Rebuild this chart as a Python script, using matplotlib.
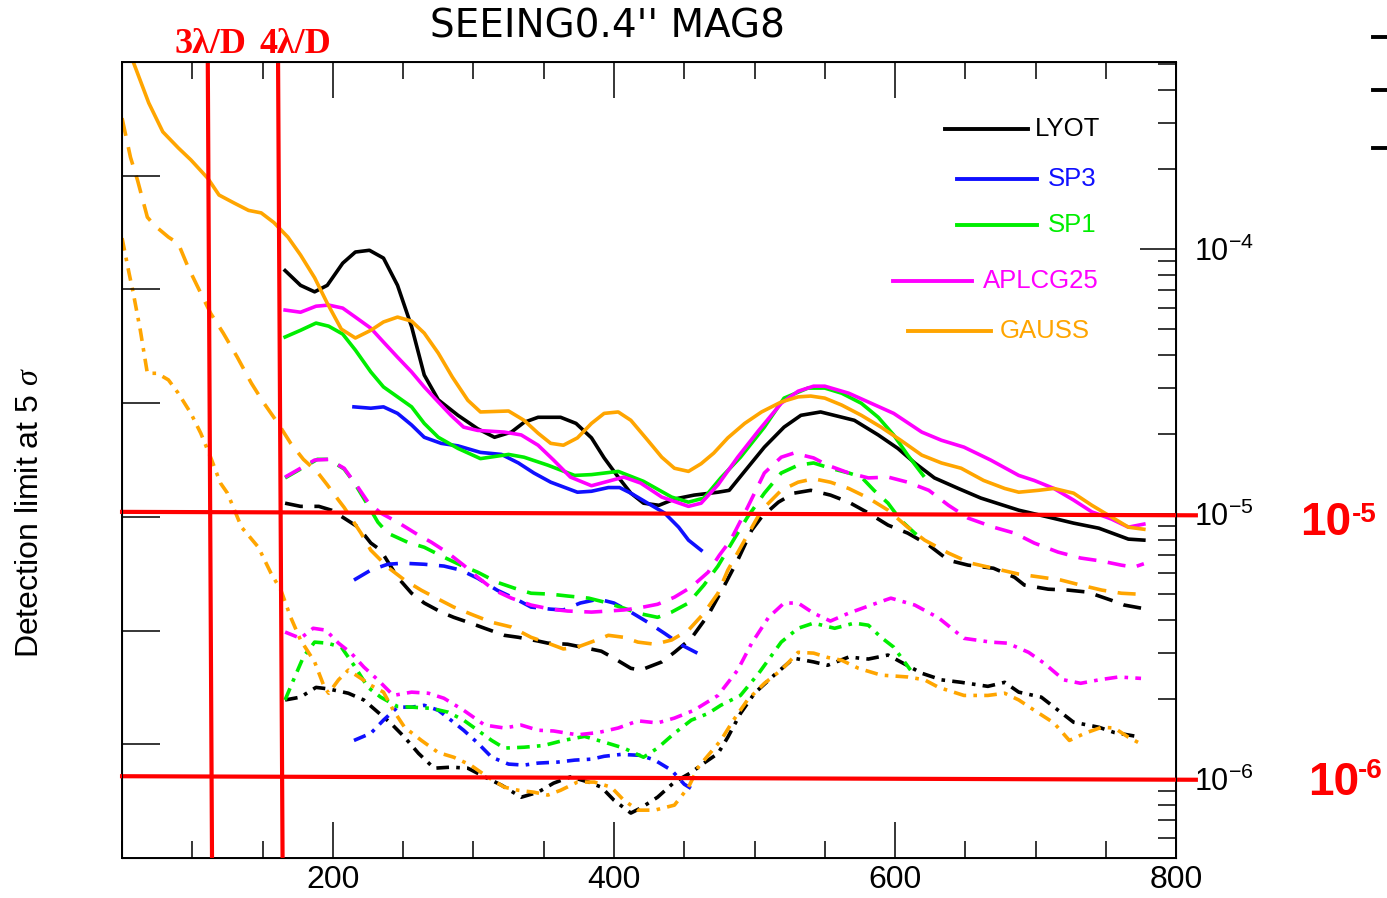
import numpy as np
import matplotlib.pyplot as plt
from matplotlib.lines import Line2D
from matplotlib.ticker import MultipleLocator, LogLocator, NullFormatter, LogFormatterSciNotation

plt.rcParams['font.family'] = ['Liberation Sans', 'DejaVu Sans']
plt.rcParams['mathtext.fontset'] = 'custom'
plt.rcParams['mathtext.rm'] = 'Liberation Sans'
plt.rcParams['mathtext.it'] = 'Liberation Serif:italic'
plt.rcParams['mathtext.bf'] = 'Liberation Sans:bold'

# --- LYOT ---
lyot_solid_x = [166, 177, 187, 196, 207, 216, 226, 236, 246, 256, 265, 275, 289, 303, 315, 327, 336, 346, 362, 373,
                384, 393, 403, 412, 421, 432, 443, 457, 474, 482, 492, 507, 521, 533, 547, 571, 588, 602, 614, 628,
                645, 661, 688, 709, 727, 745, 766, 777]
lyot_solid_y = [8.3e-5, 7.3e-5, 6.9e-5, 7.3e-5, 8.85e-5, 9.75e-5, 9.9e-5, 9.25e-5, 7.3e-5, 5.1e-5,
                3.35e-5, 2.7e-5, 2.36e-5, 2.1e-5, 1.95e-5, 2.04e-5, 2.22e-5, 2.32e-5, 2.32e-5, 2.2e-5,
                1.94e-5, 1.63e-5, 1.38e-5, 1.2e-5, 1.1e-5, 1.08e-5, 1.14e-5, 1.18e-5, 1.21e-5, 1.23e-5,
                1.43e-5, 1.79e-5, 2.13e-5, 2.36e-5, 2.43e-5, 2.26e-5, 1.99e-5, 1.77e-5, 1.56e-5, 1.37e-5,
                1.25e-5, 1.15e-5, 1.035e-5, 9.75e-6, 9.25e-6, 8.85e-6, 8.05e-6, 7.98e-6]
lyot_dash_x = [166, 177, 190, 199, 208, 218, 227, 234, 246, 256, 265, 277, 286, 298, 308, 322, 332, 346, 353, 367,
               377, 391, 400, 412, 419, 434, 443, 455, 467, 478, 488, 498, 505, 517, 528, 540, 554, 567, 581, 595,
               609, 624, 638, 652, 670, 685, 692, 709, 723, 737, 754, 763, 775]
lyot_dash_y = [1.1e-5, 1.07e-5, 1.07e-5, 1.035e-5, 9.66e-6, 8.93e-6, 7.78e-6, 7.31e-6, 5.78e-6, 5.03e-6,
               4.62e-6, 4.27e-6, 4.08e-6, 3.88e-6, 3.71e-6, 3.49e-6, 3.43e-6, 3.32e-6, 3.26e-6, 3.23e-6,
               3.15e-6, 3.04e-6, 2.86e-6, 2.62e-6, 2.58e-6, 2.77e-6, 3.01e-6, 3.4e-6, 4.16e-6, 5.31e-6,
               6.7e-6, 8.7e-6, 9.75e-6, 1.11e-5, 1.2e-5, 1.23e-5, 1.18e-5, 1.11e-5, 1.01e-5, 9.09e-6,
               8.48e-6, 7.64e-6, 6.7e-6, 6.42e-6, 6.25e-6, 5.78e-6, 5.4e-6, 5.21e-6, 5.17e-6, 5.08e-6,
               4.73e-6, 4.54e-6, 4.42e-6]
lyot_dd_x = [166, 177, 188, 197, 211, 222, 232, 241, 251, 261, 272, 284, 296, 308, 320, 334, 346, 357, 369, 382,
             391, 400, 412, 419, 431, 443, 455, 464, 474, 481, 490, 500, 514, 528, 542, 552, 567, 581, 595, 604,
             619, 633, 647, 666, 678, 688, 704, 716, 727, 745, 756, 775]
lyot_dd_y = [1.99e-6, 2.04e-6, 2.22e-6, 2.19e-6, 2.11e-6, 1.99e-6, 1.79e-6, 1.63e-6, 1.44e-6, 1.25e-6,
             1.1e-6, 1.11e-6, 1.1e-6, 1.02e-6, 9.49e-7, 8.55e-7, 8.93e-7, 9.66e-7, 1.02e-6, 9.75e-7,
             9.33e-7, 8.33e-7, 7.45e-7, 7.78e-7, 8.55e-7, 9.75e-7, 1.06e-6, 1.15e-6, 1.25e-6, 1.44e-6,
             1.77e-6, 2.11e-6, 2.47e-6, 2.86e-6, 2.77e-6, 2.69e-6, 2.89e-6, 2.84e-6, 2.94e-6, 2.77e-6,
             2.51e-6, 2.37e-6, 2.32e-6, 2.24e-6, 2.32e-6, 2.13e-6, 2.04e-6, 1.82e-6, 1.64e-6, 1.57e-6,
             1.5e-6, 1.44e-6]

# --- SP3 ---
sp3_solid_x = [215, 227, 236, 246, 256, 265, 277, 289, 305, 320, 332, 343, 355, 374, 384, 396, 404, 412, 424, 436,
               446, 453, 462]
sp3_solid_y = [2.54e-5, 2.51e-5, 2.54e-5, 2.4e-5, 2.17e-5, 1.95e-5, 1.85e-5, 1.81e-5, 1.71e-5, 1.68e-5,
               1.56e-5, 1.43e-5, 1.32e-5, 1.21e-5, 1.22e-5, 1.26e-5, 1.26e-5, 1.2e-5, 1.1e-5, 1.01e-5,
               8.93e-6, 7.98e-6, 7.31e-6]
sp3_dash_x = [215, 227, 239, 250, 265, 279, 291, 303, 317, 329, 341, 355, 364, 376, 389, 400, 412, 424, 436, 448, 462]
sp3_dash_y = [5.64e-6, 6.15e-6, 6.47e-6, 6.53e-6, 6.47e-6, 6.37e-6, 6.15e-6, 5.73e-6, 5.16e-6, 4.82e-6,
              4.46e-6, 4.38e-6, 4.35e-6, 4.62e-6, 4.78e-6, 4.62e-6, 4.27e-6, 3.91e-6, 3.55e-6, 3.21e-6, 2.94e-6]
sp3_dd_x = [215, 227, 236, 246, 256, 265, 275, 284, 293, 303, 313, 325, 336, 346, 360, 372, 384, 393, 405, 419,
            429, 441, 450, 457]
sp3_dd_y = [1.4e-6, 1.49e-6, 1.67e-6, 1.87e-6, 1.87e-6, 1.9e-6, 1.82e-6, 1.67e-6, 1.53e-6, 1.37e-6,
            1.21e-6, 1.14e-6, 1.13e-6, 1.15e-6, 1.16e-6, 1.18e-6, 1.19e-6, 1.22e-6, 1.24e-6, 1.23e-6,
            1.18e-6, 1.08e-6, 9.57e-7, 9.08e-7]

# --- SP1 ---
sp1_solid_x = [166, 177, 188, 197, 207, 216, 227, 236, 246, 256, 265, 275, 289, 305, 325, 336, 353, 372, 384, 403,
               421, 441, 453, 464, 476, 490, 507, 521, 538, 550, 562, 576, 588, 599, 609, 620]
sp1_solid_y = [4.66e-5, 4.94e-5, 5.26e-5, 5.12e-5, 4.78e-5, 4.16e-5, 3.44e-5, 3.02e-5, 2.77e-5, 2.54e-5,
               2.2e-5, 1.95e-5, 1.77e-5, 1.62e-5, 1.68e-5, 1.64e-5, 1.53e-5, 1.4e-5, 1.41e-5, 1.45e-5,
               1.33e-5, 1.16e-5, 1.11e-5, 1.15e-5, 1.37e-5, 1.64e-5, 2.13e-5, 2.74e-5, 2.99e-5, 2.99e-5,
               2.86e-5, 2.62e-5, 2.32e-5, 1.99e-5, 1.67e-5, 1.4e-5]
sp1_dash_x = [166, 177, 189, 197, 208, 215, 225, 232, 239, 253, 265, 279, 291, 303, 317, 329, 341, 355, 367, 382,
              393, 407, 417, 431, 441, 453, 464, 474, 485, 495, 507, 519, 531, 542, 554, 567, 576, 585, 595, 604,
              614, 620]
sp1_dash_y = [1.37e-5, 1.48e-5, 1.61e-5, 1.61e-5, 1.48e-5, 1.32e-5, 1.08e-5, 9.33e-6, 8.48e-6, 7.84e-6,
              7.5e-6, 6.88e-6, 6.42e-6, 6.04e-6, 5.53e-6, 5.26e-6, 5.03e-6, 4.99e-6, 4.91e-6, 4.82e-6,
              4.66e-6, 4.42e-6, 4.23e-6, 4.08e-6, 4.27e-6, 4.62e-6, 5.4e-6, 6.37e-6, 7.98e-6, 9.75e-6,
              1.2e-5, 1.43e-5, 1.53e-5, 1.56e-5, 1.49e-5, 1.43e-5, 1.38e-5, 1.23e-5, 1.1e-5, 9.49e-6,
              8.48e-6, 7.98e-6]
sp1_dd_x = [166, 172, 179, 187, 196, 206, 215, 225, 234, 246, 256, 270, 282, 293, 303, 313, 322, 336, 350, 364,
            379, 393, 407, 421, 431, 443, 455, 467, 476, 490, 503, 519, 531, 542, 557, 571, 581, 590, 599, 611]
sp1_dd_y = [1.99e-6, 2.37e-6, 2.89e-6, 3.29e-6, 3.26e-6, 3.15e-6, 2.69e-6, 2.22e-6, 2.04e-6, 1.88e-6,
            1.87e-6, 1.85e-6, 1.79e-6, 1.67e-6, 1.53e-6, 1.4e-6, 1.31e-6, 1.32e-6, 1.34e-6, 1.4e-6,
            1.45e-6, 1.38e-6, 1.31e-6, 1.21e-6, 1.31e-6, 1.49e-6, 1.67e-6, 1.77e-6, 1.9e-6, 2.07e-6,
            2.51e-6, 3.29e-6, 3.71e-6, 3.88e-6, 3.71e-6, 3.88e-6, 3.81e-6, 3.43e-6, 3.15e-6, 2.58e-6]

# --- APLCG25 ---
aplc_solid_x = [166, 177, 188, 197, 207, 216, 227, 236, 246, 256, 265, 275, 284, 293, 303, 322, 334, 346, 357, 369,
                384, 398, 407, 419, 434, 453, 462, 474, 488, 503, 519, 531, 542, 550, 567, 583, 599, 619, 633, 649,
                668, 688, 699, 713, 727, 740, 754, 766, 777]
aplc_solid_y = [5.89e-5, 5.78e-5, 6.09e-5, 6.15e-5, 5.99e-5, 5.54e-5, 5.03e-5, 4.46e-5, 3.91e-5, 3.44e-5,
                3.02e-5, 2.65e-5, 2.36e-5, 2.13e-5, 2.07e-5, 2.04e-5, 1.99e-5, 1.82e-5, 1.6e-5, 1.38e-5,
                1.28e-5, 1.34e-5, 1.38e-5, 1.31e-5, 1.16e-5, 1.07e-5, 1.1e-5, 1.29e-5, 1.64e-5, 2.07e-5,
                2.62e-5, 2.91e-5, 3.04e-5, 3.04e-5, 2.86e-5, 2.62e-5, 2.4e-5, 2.04e-5, 1.9e-5, 1.79e-5,
                1.6e-5, 1.4e-5, 1.34e-5, 1.25e-5, 1.13e-5, 1.02e-5, 9.58e-6, 8.93e-6, 9.17e-6]
aplc_dash_x = [166, 177, 187, 197, 208, 218, 225, 234, 246, 261, 270, 282, 293, 303, 315, 327, 341, 355, 367, 384,
               396, 407, 417, 431, 443, 455, 467, 475, 483, 495, 507, 519, 528, 542, 552, 567, 581, 595, 609, 624,
               638, 652, 670, 685, 699, 716, 732, 747, 761, 770, 777]
aplc_dash_y = [1.38e-5, 1.49e-5, 1.6e-5, 1.61e-5, 1.49e-5, 1.26e-5, 1.11e-5, 1.01e-5, 9.33e-6, 8.33e-6,
               7.84e-6, 7.13e-6, 6.42e-6, 5.78e-6, 5.16e-6, 4.82e-6, 4.54e-6, 4.38e-6, 4.31e-6, 4.27e-6,
               4.31e-6, 4.35e-6, 4.42e-6, 4.57e-6, 4.86e-6, 5.31e-6, 6.04e-6, 7.0e-6, 7.98e-6, 1.06e-5,
               1.43e-5, 1.64e-5, 1.7e-5, 1.63e-5, 1.53e-5, 1.43e-5, 1.37e-5, 1.38e-5, 1.32e-5, 1.23e-5,
               1.08e-5, 9.66e-6, 8.93e-6, 8.48e-6, 7.78e-6, 7.19e-6, 6.83e-6, 6.65e-6, 6.42e-6, 6.31e-6, 6.5e-6]
aplc_dd_x = [166, 177, 186, 195, 204, 213, 222, 232, 243, 256, 268, 279, 293, 308, 322, 334, 346, 357, 374, 389,
             403, 417, 431, 443, 457, 474, 488, 498, 510, 521, 531, 542, 554, 567, 583, 597, 614, 631, 649, 668,
             680, 695, 706, 720, 732, 745, 759, 775]
aplc_dd_y = [3.59e-6, 3.4e-6, 3.71e-6, 3.65e-6, 3.26e-6, 2.99e-6, 2.65e-6, 2.37e-6, 2.07e-6, 2.13e-6,
             2.11e-6, 2.02e-6, 1.82e-6, 1.6e-6, 1.56e-6, 1.6e-6, 1.53e-6, 1.52e-6, 1.47e-6, 1.5e-6,
             1.56e-6, 1.66e-6, 1.63e-6, 1.7e-6, 1.82e-6, 2.07e-6, 2.58e-6, 3.26e-6, 4.08e-6, 4.62e-6,
             4.62e-6, 4.23e-6, 3.95e-6, 4.23e-6, 4.54e-6, 4.82e-6, 4.54e-6, 4.06e-6, 3.4e-6, 3.29e-6,
             3.26e-6, 3.01e-6, 2.74e-6, 2.37e-6, 2.3e-6, 2.37e-6, 2.43e-6, 2.4e-6]

# --- GAUSS ---
gauss_solid_x = [50, 58, 69, 79, 90, 99, 111, 119, 130, 140, 149, 158, 168, 177, 187, 196, 206, 216, 227, 236,
                 246, 256, 265, 275, 285, 296, 305, 325, 336, 346, 355, 364, 374, 384, 393, 403, 412, 424, 434, 443,
                 453, 462, 471, 481, 493, 505, 519, 531, 540, 550, 562, 576, 590, 604, 619, 633, 647, 663, 678, 688,
                 702, 713, 727, 740, 754, 766, 777]
gauss_solid_y = [6.6e-4, 5.08e-4, 3.56e-4, 2.77e-4, 2.41e-4, 2.17e-4, 1.85e-4, 1.6e-4, 1.49e-4, 1.4e-4,
                 1.37e-4, 1.26e-4, 1.11e-4, 9.5e-5, 7.8e-5, 6.25e-5, 4.99e-5, 4.62e-5, 4.94e-5, 5.31e-5,
                 5.54e-5, 5.35e-5, 4.82e-5, 4.05e-5, 3.29e-5, 2.69e-5, 2.43e-5, 2.45e-5, 2.26e-5, 2.02e-5,
                 1.85e-5, 1.82e-5, 1.94e-5, 2.2e-5, 2.4e-5, 2.43e-5, 2.26e-5, 1.9e-5, 1.64e-5, 1.49e-5,
                 1.45e-5, 1.55e-5, 1.7e-5, 1.94e-5, 2.2e-5, 2.43e-5, 2.65e-5, 2.77e-5, 2.79e-5, 2.74e-5,
                 2.58e-5, 2.36e-5, 2.13e-5, 1.9e-5, 1.67e-5, 1.56e-5, 1.49e-5, 1.34e-5, 1.25e-5, 1.21e-5,
                 1.23e-5, 1.25e-5, 1.2e-5, 1.08e-5, 9.75e-6, 8.93e-6, 8.77e-6]
gauss_dash_x = [50, 56, 61, 68, 73, 83, 90, 97, 106, 113, 122, 132, 142, 151, 161, 170, 179, 189, 196, 204,
                208, 213, 220, 227, 239, 251, 263, 275, 286, 300, 313, 327, 341, 353, 364, 374, 389, 396, 407, 417,
                429, 441, 453, 464, 474, 481, 493, 505, 519, 531, 542, 554, 567, 581, 595, 609, 621, 638, 654, 670,
                688, 704, 718, 732, 747, 761, 773, 777]
gauss_dash_y = [3.12e-4, 2.22e-4, 1.82e-4, 1.32e-4, 1.23e-4, 1.11e-4, 1.05e-4, 8.55e-5, 6.82e-5, 5.73e-5,
                4.82e-5, 3.91e-5, 3.12e-5, 2.62e-5, 2.2e-5, 1.85e-5, 1.61e-5, 1.44e-5, 1.29e-5, 1.13e-5,
                1.06e-5, 9.66e-6, 8.48e-6, 7.31e-6, 6.31e-6, 5.64e-6, 5.16e-6, 4.78e-6, 4.46e-6, 4.16e-6,
                3.91e-6, 3.75e-6, 3.43e-6, 3.26e-6, 3.1e-6, 3.15e-6, 3.37e-6, 3.49e-6, 3.43e-6, 3.29e-6,
                3.23e-6, 3.35e-6, 3.65e-6, 4.23e-6, 5.03e-6, 6.15e-6, 7.98e-6, 1.035e-5, 1.23e-5, 1.32e-5,
                1.36e-5, 1.32e-5, 1.25e-5, 1.15e-5, 1.035e-5, 8.93e-6, 7.98e-6, 7.13e-6, 6.53e-6, 6.25e-6,
                5.94e-6, 5.78e-6, 5.64e-6, 5.4e-6, 5.17e-6, 5.03e-6, 4.99e-6, 5.0e-6]
gauss_dd_x = [50, 55, 58, 63, 68, 75, 83, 90, 99, 106, 113, 120, 125, 135, 147, 156, 163, 170, 177, 187,
              194, 197, 204, 211, 220, 227, 236, 243, 251, 263, 275, 286, 298, 310, 322, 332, 343, 353, 362, 374,
              386, 398, 407, 417, 429, 443, 453, 460, 467, 476, 485, 495, 507, 519, 531, 542, 552, 562, 574, 590,
              609, 621, 631, 649, 666, 678, 688, 699, 713, 724, 735, 747, 756, 766, 777]
gauss_dd_y = [1.1e-4, 8.11e-5, 6.82e-5, 4.94e-5, 3.4e-5, 3.4e-5, 3.21e-5, 2.86e-5, 2.4e-5, 2.02e-5,
              1.64e-5, 1.31e-5, 1.2e-5, 8.93e-6, 7.5e-6, 5.98e-6, 5.17e-6, 4.08e-6, 3.35e-6, 2.77e-6,
              2.22e-6, 2.11e-6, 2.37e-6, 2.58e-6, 2.4e-6, 2.26e-6, 2.13e-6, 1.82e-6, 1.57e-6, 1.4e-6,
              1.26e-6, 1.21e-6, 1.13e-6, 1.02e-6, 9.33e-7, 9.08e-7, 8.93e-7, 8.71e-7, 9.08e-7, 9.75e-7,
              9.75e-7, 9.33e-7, 8.33e-7, 7.64e-7, 7.64e-7, 7.98e-7, 9.33e-7, 1.11e-6, 1.23e-6, 1.4e-6,
              1.67e-6, 1.99e-6, 2.3e-6, 2.58e-6, 3.01e-6, 2.99e-6, 2.88e-6, 2.81e-6, 2.62e-6, 2.47e-6,
              2.43e-6, 2.37e-6, 2.22e-6, 2.07e-6, 2.07e-6, 2.11e-6, 1.99e-6, 1.82e-6, 1.63e-6, 1.4e-6,
              1.49e-6, 1.57e-6, 1.56e-6, 1.44e-6, 1.34e-6]

labels = ['LYOT', 'SP3', 'SP1', 'APLCG25', 'GAUSS']
colors = ['black', '#1010ff', '#00ee00', '#ff00ff', '#ffa500']

# reference lines (lambda/D and contrast levels)
lam3_x = (111, 114)
lam4_x = (161, 164.2)
lvl5_y = (1.02e-5, 0.99e-5)
lvl6_y = (1.026e-6, 0.995e-6)

series = [
    (lyot_solid_x, lyot_solid_y, lyot_dash_x, lyot_dash_y, lyot_dd_x, lyot_dd_y),
    (sp3_solid_x, sp3_solid_y, sp3_dash_x, sp3_dash_y, sp3_dd_x, sp3_dd_y),
    (sp1_solid_x, sp1_solid_y, sp1_dash_x, sp1_dash_y, sp1_dd_x, sp1_dd_y),
    (aplc_solid_x, aplc_solid_y, aplc_dash_x, aplc_dash_y, aplc_dd_x, aplc_dd_y),
    (gauss_solid_x, gauss_solid_y, gauss_dash_x, gauss_dash_y, gauss_dd_x, gauss_dd_y),
]

fig = plt.figure(figsize=(13.87, 8.98), dpi=100)
ax = fig.add_axes([0.088, 0.0445, 0.760, 0.8864])
ax.set_yscale('log')
ax.set_xlim(50, 800)
ax.set_ylim(5.04e-7, 5.08e-4)

lw = 2.6
for (sx, sy, dx, dy, ddx, ddy), c in zip(series, colors):
    ax.plot(sx, sy, color=c, lw=lw, solid_joinstyle='round')
    ax.plot(dx, dy, color=c, lw=lw, linestyle=(0, (5, 3.2)))
    ax.plot(ddx, ddy, color=c, lw=lw, linestyle=(0, (3.5, 2, 1, 2)))

# red reference lines
ylo, yhi = ax.get_ylim()
ax.plot(lam3_x, (yhi, ylo), color='red', lw=3, zorder=5)
ax.plot(lam4_x, (yhi, ylo), color='red', lw=3, zorder=5)
ax.plot((50, 814), lvl5_y, color='red', lw=3, zorder=5, clip_on=False)
ax.plot((50, 814), lvl6_y, color='red', lw=3, zorder=5, clip_on=False)

# left linear tick marks (no labels)
axl = ax.twinx()
axl.set_ylim(0, 7)
axl.yaxis.tick_left()
axl.set_yticks([1, 2, 3, 4, 5, 6])
axl.tick_params(axis='y', direction='in', length=27, width=1.1, labelleft=False, right=False)

# axes styling
for s in ax.spines.values():
    s.set_linewidth(1.4)
ax.xaxis.set_major_locator(MultipleLocator(200))
ax.xaxis.set_minor_locator(MultipleLocator(50))
ax.tick_params(axis='x', which='major', direction='in', length=26, width=1.1, top=True, bottom=True,
               labelsize=23, pad=5)
ax.tick_params(axis='x', which='minor', direction='in', length=12.5, width=1.1, top=True, bottom=True)
ax.yaxis.tick_right()
ax.yaxis.set_label_position('right')
ax.yaxis.set_major_locator(LogLocator(base=10))
ax.yaxis.set_minor_locator(LogLocator(base=10, subs=np.arange(2, 10)))
ax.yaxis.set_major_formatter(LogFormatterSciNotation())
ax.yaxis.set_minor_formatter(NullFormatter())
ax.tick_params(axis='y', which='major', direction='in', length=26, width=1.1, labelsize=22, pad=13,
               left=False, right=True, labelleft=False, labelright=True)
ax.tick_params(axis='y', which='minor', direction='in', length=13, width=1.1, left=False, right=True)

# in-plot legend
legend_rows = [(0.781, 0.859, 0.916, 0.866),
               (0.792, 0.868, 0.853, 0.878),
               (0.792, 0.868, 0.795, 0.878),
               (0.731, 0.806, 0.725, 0.817),
               (0.746, 0.824, 0.662, 0.833)]
for (x0, x1, yy, xt), lab, c in zip(legend_rows, labels, colors):
    ax.add_line(Line2D([x0, x1], [yy, yy], color=c, lw=2.8, transform=ax.transAxes))
    ax.text(xt, yy, lab, color=c, fontsize=18.5, va='center', ha='left', transform=ax.transAxes)

# texts
fig.text(0.4376, 0.971, "SEEING0.4'' MAG8", fontsize=28, ha='center', va='center', family='DejaVu Sans')
fig.text(0.0216, 0.4287, r'Detection limit at 5 $\sigma$', fontsize=23, rotation=90, ha='center', va='center')
fig.text(0.152, 0.950, '3λ/D', color='red', fontsize=26, fontweight='bold', family='Liberation Serif',
         ha='center', va='center')
fig.text(0.2128, 0.950, '4λ/D', color='red', fontsize=26, fontweight='bold', family='Liberation Serif',
         ha='center', va='center')
fig.text(0.9373, 0.4042, '10', color='red', fontsize=33, fontweight='bold', ha='left', va='baseline')
fig.text(0.9748, 0.4187, '-5', color='red', fontsize=20, fontweight='bold', ha='left', va='baseline')
fig.text(0.9431, 0.1147, '10', color='red', fontsize=33, fontweight='bold', ha='left', va='baseline')
fig.text(0.9791, 0.1336, '-6', color='red', fontsize=20, fontweight='bold', ha='left', va='baseline')

# clipped legend samples at right border
for yy in (0.9588, 0.8998, 0.8352):
    fig.add_artist(Line2D([0.990, 1.0], [yy, yy], color='black', lw=2.8))

fig.savefig('out.png', dpi=100)
